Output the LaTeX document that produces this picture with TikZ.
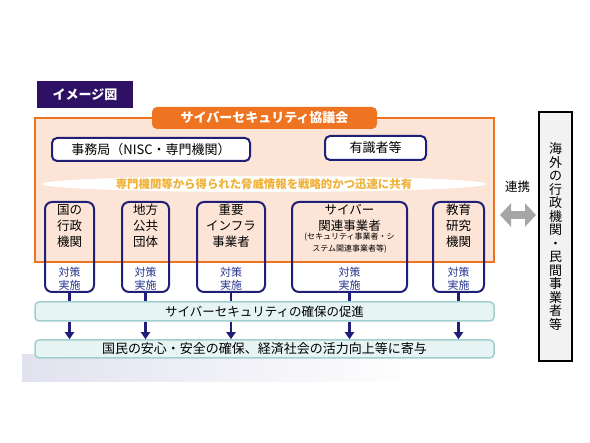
\documentclass[tikz,border=0pt]{standalone}
\usepackage{fontspec}
\setmainfont{Noto Sans CJK JP}
\usetikzlibrary{positioning,arrows.meta,shapes.geometric}

\definecolor{navy}{HTML}{1F1F78}
\definecolor{actblue}{HTML}{26358F}
\definecolor{tagpurple}{HTML}{2E1065}
\definecolor{councilorange}{HTML}{EE7421}
\definecolor{peach}{HTML}{FCE4D6}
\definecolor{bandgold}{HTML}{F0B238}
\definecolor{barfill}{HTML}{E7F4F4}
\definecolor{barline}{HTML}{A2CECE}
\definecolor{linkgray}{HTML}{A6A6A6}
\definecolor{shadelav}{HTML}{E1E2EF}

\begin{document}
\begin{tikzpicture}[x=1pt,y=-1pt,>={Triangle[width=9pt,length=7pt]},
  party/.style={draw=navy, line width=2pt, rounded corners=7pt, minimum height=90pt, inner sep=0pt},
  who/.style={align=center, inner sep=0pt, font=\fontsize{12.5}{16}\selectfont},
  act/.style={align=center, inner sep=0pt, text=actblue, font=\fontsize{11}{13}\selectfont},
  bar/.style={draw=barline, line width=1.5pt, fill=barfill, rounded corners=4pt, minimum width=459pt, inner sep=0pt},
  topbox/.style={draw=navy, line width=2pt, fill=white, rounded corners=5pt, inner sep=0pt, font=\fontsize{13}{15}\selectfont}]
  \useasboundingbox (0,0) rectangle (590,443);

  % faint band under the slide
  \shade[left color=shadelav, right color=white] (22,355) rectangle (420,382);

  \node (tag) [fill=tagpurple, minimum width=96pt, minimum height=27pt, text=white, font=\bfseries\fontsize{13}{15}\selectfont] at (85,94.5) {イメージ図};

  \node (council) [draw=councilorange, line width=2.5pt, fill=peach, minimum width=459pt, minimum height=144pt] at (264.5,190) {};
  \node (tab) [fill=councilorange, rounded corners=5pt, minimum width=225pt, minimum height=22pt, inner sep=0pt, text=white, font=\bfseries\fontsize{13}{15}\selectfont] at (264.5,118) {サイバーセキュリティ協議会};

  \node (office) [topbox, minimum width=198pt, minimum height=23pt] at (151,149.5) {事務局（NISC・専門機関）};
  \node (experts) [topbox, minimum width=101pt, minimum height=24pt] at (375.5,148) {有識者等};

  \node (band) [ellipse, fill=white, minimum width=444pt, minimum height=16pt, inner sep=0pt, text=bandgold, font=\bfseries\fontsize{11.4}{13}\selectfont] at (264,184) {専門機関等から得られた脅威情報を戦略的かつ迅速に共有};

  % stakeholders
  \node (g1) [party, minimum width=49pt] at (69.5,247) {};
  \node (g2) [party, minimum width=47pt] at (145.5,247) {};
  \node (g3) [party, minimum width=68pt] at (231,247) {};
  \node (g4) [party, minimum width=115pt] at (349.5,247) {};
  \node (g5) [party, minimum width=51pt] at (458.5,247) {};

  \node (g1who) [who, below=3pt of g1.north] {国の\\行政\\機関};
  \node (g2who) [who, below=3pt of g2.north] {地方\\公共\\団体};
  \node (g3who) [who, below=3pt of g3.north] {重要\\インフラ\\事業者};
  \node (g4who) [who, below=3pt of g4.north] {サイバー\\関連事業者};
  \node (g4sub) [align=center, inner sep=0pt, font=\fontsize{8}{11.5}\selectfont, below=1pt of g4who] {(セキュリティ事業者・シ\\ステム関連事業者等)};
  \node (g5who) [who, below=3pt of g5.north] {教育\\研究\\機関};

  \node (g1act) [act, above=2pt of g1.south] {対策\\実施};
  \node (g2act) [act, above=2pt of g2.south] {対策\\実施};
  \node (g3act) [act, above=2pt of g3.south] {対策\\実施};
  \node (g4act) [act, above=2pt of g4.south] {対策\\実施};
  \node (g5act) [act, above=2pt of g5.south] {対策\\実施};

  \node (promo) [bar, minimum height=19pt, font=\fontsize{12.5}{15}\selectfont] at (264.5,311.5) {サイバーセキュリティの確保の促進};
  \node (goal) [bar, minimum height=18pt, font=\fontsize{13}{15}\selectfont] at (264.5,349) {国民の安心・安全の確保、経済社会の活力向上等に寄与};

  \node (abroad) [draw, line width=2pt, fill=black!5, minimum width=33pt, minimum height=249pt, inner sep=0pt, align=center, font=\fontsize{13}{13.5}\selectfont] at (555.5,236.5) {海\\外\\の\\行\\政\\機\\関\\・\\民\\間\\事\\業\\者\\等};
  \node (link) [font=\fontsize{12.5}{15}\selectfont] at (517.5,187) {連携};
  \coordinate (lkL) at (500,215);
  \coordinate (lkR) at (536,215);

  \draw[navy, line width=2.5pt] (g1.south) -- (g1.south |- promo.north);
  \draw[navy, line width=2.5pt] (g2.south) -- (g2.south |- promo.north);
  \draw[navy, line width=2.5pt] (g3.south) -- (g3.south |- promo.north);
  \draw[navy, line width=2.5pt] (g4.south) -- (g4.south |- promo.north);
  \draw[navy, line width=2.5pt] (g5.south) -- (g5.south |- promo.north);

  \draw[->, navy, line width=2.5pt] (g1.south |- promo.south) -- (g1.south |- goal.north);
  \draw[->, navy, line width=2.5pt] (g2.south |- promo.south) -- (g2.south |- goal.north);
  \draw[->, navy, line width=2.5pt] (g3.south |- promo.south) -- (g3.south |- goal.north);
  \draw[->, navy, line width=2.5pt] (g4.south |- promo.south) -- (g4.south |- goal.north);
  \draw[->, navy, line width=2.5pt] (g5.south |- promo.south) -- (g5.south |- goal.north);

  \draw[{Triangle[width=23pt,length=11pt]}-{Triangle[width=23pt,length=11pt]}, linkgray, line width=8pt] (lkL) -- (lkR);
\end{tikzpicture}
\end{document}
